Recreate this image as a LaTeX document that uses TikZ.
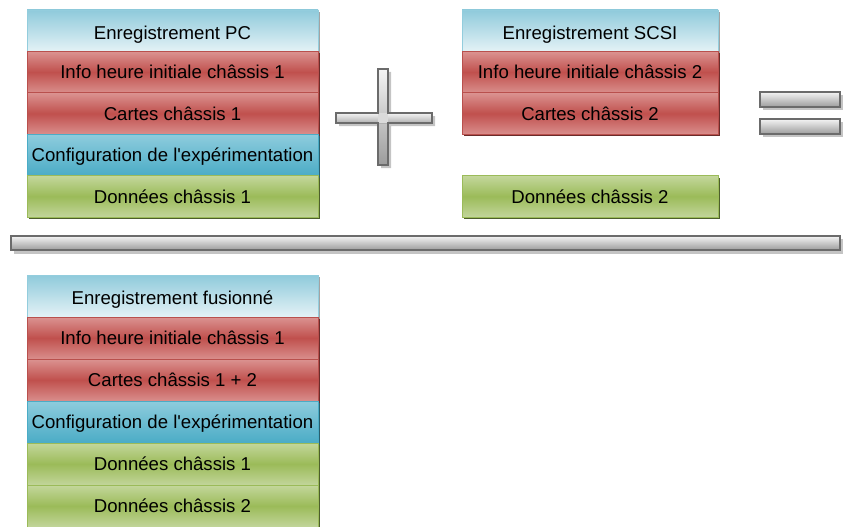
\documentclass[tikz,border=0pt]{standalone}
\usepackage{fontspec}
\setmainfont{Liberation Sans}
\usetikzlibrary{shadows}

% row palette
\definecolor{hdrTop}{HTML}{8FCADB}
\definecolor{hdrBot}{HTML}{E4F2F6}
\definecolor{hdrLine}{HTML}{93CDDD}
\definecolor{redTop}{HTML}{DB9391}
\definecolor{redMid}{HTML}{C0504D}
\definecolor{redBot}{HTML}{D98E8C}
\definecolor{redLine}{HTML}{B9504D}
\definecolor{cfgTop}{HTML}{8ECCDD}
\definecolor{cfgBot}{HTML}{4BACC6}
\definecolor{cfgLine}{HTML}{4BACC6}
\definecolor{grnTop}{HTML}{C4D79C}
\definecolor{grnMid}{HTML}{9BBB59}
\definecolor{grnBot}{HTML}{C2D59A}
\definecolor{grnLine}{HTML}{9BBB59}
% operator bars
\definecolor{barLine}{HTML}{6B6B6B}
\definecolor{barTop}{HTML}{F4F4F4}
\definecolor{barBot}{HTML}{9C9C9C}
\definecolor{barShade}{HTML}{C4C4C4}

\newcommand{\apos}{\textquotesingle}

\begin{document}
\begin{tikzpicture}[x=1pt,y=-1pt,
  cell/.style={rectangle, inner sep=0pt, minimum height=41.4pt,
    text height=13.4pt, text depth=0pt,
    font=\fontsize{18.6}{20}\selectfont, text=black, line width=0.8pt},
  wideL/.style={minimum width=291pt},
  wideR/.style={minimum width=256pt},
  hdr/.style={cell, text height=17.4pt, draw=hdrLine, top color=hdrTop, bottom color=hdrBot,
    drop shadow={shadow xshift=2pt, shadow yshift=-2pt, fill=black!45, opacity=0.8}},
  redrow/.style={cell, draw=redLine, top color=redTop, bottom color=redBot, middle color=redMid,
    drop shadow={shadow xshift=2pt, shadow yshift=-2pt, fill=redMid!55!black, opacity=1}},
  cfgrow/.style={cell, draw=cfgLine, top color=cfgTop, bottom color=cfgBot,
    drop shadow={shadow xshift=2pt, shadow yshift=-2pt, fill=cfgBot!55!black, opacity=1}},
  grnrow/.style={cell, draw=grnLine, top color=grnTop, bottom color=grnBot, middle color=grnMid,
    drop shadow={shadow xshift=2pt, shadow yshift=-2pt, fill=grnMid!50!black, opacity=1}},
  bar/.style={draw=barLine, line width=1.6pt, top color=barTop, bottom color=barBot},
  barshadow/.style={fill=barShade}
]
\useasboundingbox (0,0) rectangle (843,527);

% first recording (PC)
\node[hdr, wideL]    (pcA) at (172.5,30.7)  {Enregistrement PC};
\node[redrow, wideL] (pcB) at (172.5,72.1)  {Info heure initiale châssis 1};
\node[redrow, wideL] (pcC) at (172.5,113.5) {Cartes châssis 1};
\node[cfgrow, wideL] (pcD) at (172.5,154.9) {Configuration de l\apos expérimentation};
\node[grnrow, wideL] (pcE) at (172.5,196.3) {Données châssis 1};

% plus sign
\fill[barshadow] (381,72) -- (391,72) -- (391,116) -- (435,116) -- (435,126) -- (391,126)
  -- (391,168) -- (381,168) -- (381,126) -- (339,126) -- (339,116) -- (381,116) -- cycle;
\shade[top color=barTop, bottom color=barBot] (378,69) rectangle (388,165);
\shade[top color=barTop, bottom color=barBot!80!white] (336,113) rectangle (432,123);
\fill[barTop!70!barBot] (378,113) rectangle (388,123);
\draw[barLine, line width=1.6pt, line join=miter] (378,69) -- (388,69) -- (388,113) -- (432,113)
  -- (432,123) -- (388,123) -- (388,165) -- (378,165) -- (378,123) -- (336,123)
  -- (336,113) -- (378,113) -- cycle;

% second recording (SCSI)
\node[hdr, wideR]    (scA) at (590,30.7)  {Enregistrement SCSI};
\node[redrow, wideR] (scB) at (590,72.1)  {Info heure initiale châssis 2};
\node[redrow, wideR] (scC) at (590,113.5) {Cartes châssis 2};
\node[grnrow, wideR] (scE) at (590,196.3) {Données châssis 2};

% equals sign
\fill[barshadow] (763,95) rectangle (843,110);
\draw[bar] (760,92) rectangle (840,107);
\fill[barshadow] (763,122) rectangle (843,137);
\draw[bar] (760,119) rectangle (840,134);

% long result bar
\fill[barshadow] (14,239) rectangle (843,254);
\draw[bar] (11,236) rectangle (840,250);

% merged recording
\node[hdr, wideL, minimum height=42pt]    (mgA) at (172.5,296) {Enregistrement fusionné};
\node[redrow, wideL, minimum height=42pt] (mgB) at (172.5,338) {Info heure initiale châssis 1};
\node[redrow, wideL, minimum height=42pt] (mgC) at (172.5,380) {Cartes châssis 1 + 2};
\node[cfgrow, wideL, minimum height=42pt] (mgD) at (172.5,422) {Configuration de l\apos expérimentation};
\node[grnrow, wideL, minimum height=42pt] (mgE) at (172.5,464) {Données châssis 1};
\node[grnrow, wideL, minimum height=42pt] (mgF) at (172.5,506) {Données châssis 2};
\end{tikzpicture}
\end{document}
